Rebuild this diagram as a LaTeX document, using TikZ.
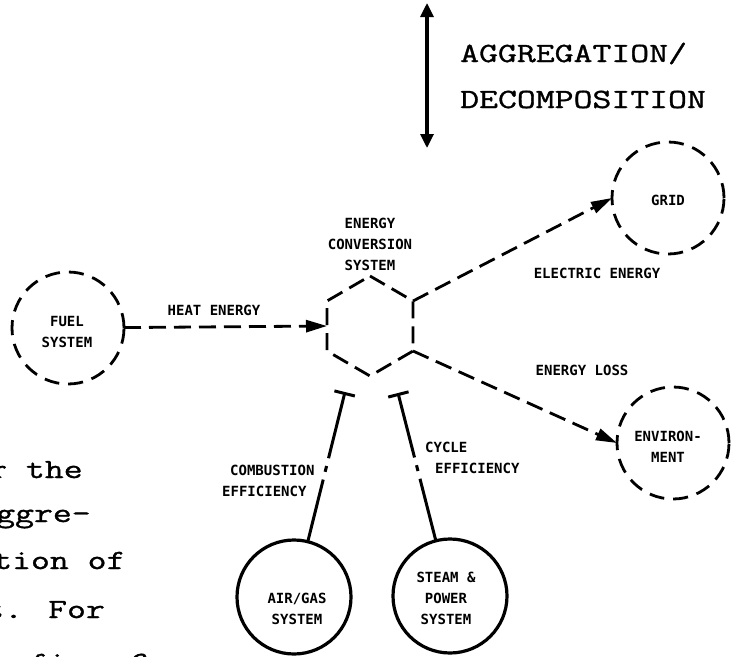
\documentclass[tikz,border=0pt]{standalone}
\usepackage{fontspec}
\usetikzlibrary{arrows.meta}
\newfontfamily\twfont[FakeBold=1.2,FakeStretch=1.32]{Latin Modern Mono}
\newfontfamily\lbfont{DejaVu Sans Mono}
\begin{document}
\begin{tikzpicture}[x=1pt,y=-1pt,
  dashc/.style={circle,draw,line width=2.8pt,dash pattern=on 15pt off 9pt,minimum size=112pt,inner sep=0pt,outer sep=0pt},
  solidc/.style={circle,draw,line width=3.2pt,minimum size=114pt,inner sep=0pt,outer sep=0pt},
  lbl/.style={font=\lbfont\bfseries\fontsize{14}{21}\selectfont,align=center,inner sep=0pt},
  twtext/.style={font=\twfont\fontsize{27.8}{46}\selectfont,inner sep=0pt,anchor=base west},
  flow/.style={line width=2.8pt,dash pattern=on 17pt off 8pt,arrows={-Triangle[length=21pt,width=12pt]}},
  hexs/.style={line width=2.8pt,dash pattern=on 17pt off 8pt,line join=round},
  eff/.style={line width=3pt,dash pattern=on 64pt off 8pt on 6pt off 8pt on 400pt,arrows={-Bar[width=21pt]}},
  updown/.style={line width=3.2pt,arrows={Triangle[length=14pt,width=13pt]-Triangle[length=14pt,width=13pt]}}
]
\useasboundingbox (0,0) rectangle (736,656);
\clip (0,0) rectangle (736,656);

% top double arrow and caption
\coordinate (aT) at (427,3);
\coordinate (aB) at (427,148);
\draw[updown] (aT) -- (aB);
\node[twtext] (agg) at (460,62) {AGGREGATION/};
\node[twtext] (dec) at (460,108) {DECOMPOSITION};

% left running text (cut by the margin)
\node[twtext] (p1) at (-12,478) {r the};
\node[twtext] (p2) at (-4,522) {ggre-};
\node[twtext] (p3) at (-7,569) {tion of};
\node[twtext] (p4) at (-15,618) {t. For};
\node[twtext] (p5) at (-9,671) {e fig. 6};

% hexagon
\coordinate (hT) at (370,276);
\coordinate (hUR) at (413,301);
\coordinate (hLR) at (413,351);
\coordinate (hB) at (370,376);
\coordinate (hLL) at (327,351);
\coordinate (hUL) at (327,301);
\coordinate (hW) at (327,326);
\draw[hexs] (hT) -- (hUR) -- (hLR) -- (hB) -- (hLL) -- (hUL) -- cycle;
\node[lbl] (ecs) at (370,244) {ENERGY\\CONVERSION\\SYSTEM};

% circles
\node[dashc] (fuel) at (68,328) {};
\node[lbl] (fueltxt) at (67,332) {FUEL\\SYSTEM};
\node[dashc] (grid) at (668,198) {};
\node[lbl] (gridtxt) at (668,200) {GRID};
\node[dashc] (env) at (673,443) {};
\node[lbl] (envtxt) at (668,447) {ENVIRON-\\MENT};
\node[solidc] (airgas) at (294,597) {};
\node[lbl] (airgastxt) at (297,609) {AIR/GAS\\SYSTEM};
\node[solidc] (steam) at (450,596) {};
\node[lbl] (steamtxt) at (446,598) {STEAM \&\\POWER\\SYSTEM};

% flows
\draw[flow] (fuel) -- (hW);
\node[lbl] (heat) at (214,310) {HEAT ENERGY};
\draw[flow] (hUR) -- (grid.west);
\node[lbl] (elec) at (597,273) {ELECTRIC ENERGY};
\draw[flow] (hLR) -- (env.west);
\node[lbl] (loss) at (582,370) {ENERGY LOSS};

% efficiencies
\coordinate (tL) at (345,392);
\coordinate (tR) at (398,393);
\draw[eff] (airgas) -- (tL);
\draw[eff] (steam) -- (tR);
\node[lbl,anchor=west,align=left] (comb) at (222,481) {\hspace*{8pt}COMBUSTION\\EFFICIENCY};
\node[lbl,anchor=west,align=left] (cyc) at (425,458) {CYCLE\\\hspace*{10pt}EFFICIENCY};
\end{tikzpicture}
\end{document}
